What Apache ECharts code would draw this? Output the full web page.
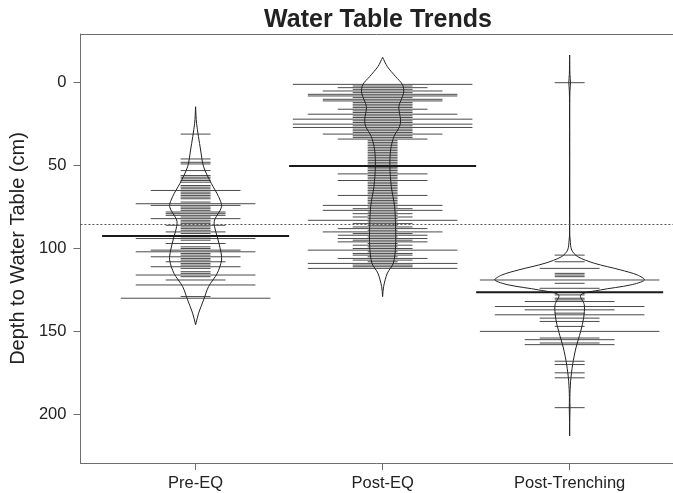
<!DOCTYPE html>
<html><head><meta charset="utf-8">
<script src="https://cdn.jsdelivr.net/npm/echarts@6/dist/echarts.min.js"></script>
<style>html,body{margin:0;padding:0;background:#fff}#c{width:673px;height:493px}</style>
</head><body><div id="c"></div>
<script>
// ---- data ----
const categories = ['Pre-EQ', 'Post-EQ', 'Post-Trenching'];
const yTickValues = [0, 50, 100, 150, 200];

// observed depths (cm) and the number of observations at each depth
const preDepth = [31,46,48,49,53,56,57,58,59,60,62,63,64,65,66,67,68,69,70,72,73,74,75,76,77,78,79,80,81,82,83,84,85,86,87,88,89,90,91,93,94,95,97,99,100,101,102,103,104,105,106,107,108,109,110,111,112,114,115,116,117,119,122,129,130];
const preCount = [1,1,1,1,1,1,1,1,1,1,1,1,1,3,1,1,1,1,1,1,4,3,1,1,1,2,2,2,1,3,1,1,1,2,1,1,1,2,1,1,4,1,2,1,1,3,4,1,1,3,1,1,2,1,1,3,1,1,1,4,1,2,4,1,5];

const postDepth = [1,2,3,4,5,6,7,8,9,10,11,12,13,14,15,16,17,18,19,20,21,22,23,24,25,26,27,28,29,30,31,32,33,34,35,36,37,38,39,40,41,42,43,44,45,46,47,48,49,50,51,52,53,54,55,56,57,58,59,60,61,62,63,64,65,66,67,68,69,70,71,72,73,74,75,76,77,78,79,80,81,82,83,84,85,86,87,88,89,90,91,92,93,94,95,96,97,98,99,100,101,102,103,104,105,106,107,108,109,110,111,112];
const postCount = [6,2,3,2,4,2,5,5,2,4,4,2,2,2,2,3,2,2,5,2,2,6,2,2,6,2,6,2,2,2,4,2,2,3,1,1,1,1,1,1,1,1,1,1,1,1,1,1,1,1,1,1,1,1,3,1,1,1,3,1,1,1,1,1,1,1,1,3,1,1,1,1,1,4,1,2,4,1,2,1,2,1,5,1,2,1,2,3,1,4,2,3,1,3,2,3,1,2,1,2,5,1,2,2,1,3,2,1,5,2,2,5];

const trenchDepth = [0,104,108,112,115,116,117,119,121,124,128,130,131,132,135,137,139,140,142,144,147,150,154,155,157,158,168,170,175,178,196];
const trenchCount = [1,1,1,2,1,1,1,6,1,2,1,1,1,3,5,3,1,5,2,2,1,6,2,3,2,3,1,1,1,1,1];

// bean averages and overall average (cm)
const beanMeans = [92.5, 50.2, 126.4];
const overallMean = 85.6;

// density outlines: depth (cm) and relative density (1 = widest)
const preDensDepth = [14.5,24.5,40.6,50.7,60.7,68.7,74.8,82.8,86.8,92.9,100.9,106.9,115,123,131,139,146];
const preDens = [0,0.013,0.067,0.107,0.209,0.307,0.347,0.253,0.253,0.289,0.333,0.347,0.289,0.173,0.107,0.04,0];
const postDensDepth = [-15.3,-9.7,-3.7,1.3,6.3,14.4,22.4,26.4,32.5,40.5,50.6,62.6,74.7,86.7,98.8,108.9,114.9,123,129];
const postDens = [0,0.063,0.173,0.267,0.28,0.217,0.24,0.227,0.151,0.107,0.097,0.116,0.16,0.173,0.173,0.143,0.063,0.013,0];
const trenchDensDepth = [-16.7,-5,0,5,20,90,94.9,100.9,104.9,108.9,112.9,116,119,122,125,128,134,142,150,160,170,180,190,196,205,213];
const trenchDens = [0,0.004,0.011,0.004,0,0,0.007,0.027,0.107,0.329,0.68,0.907,1,0.813,0.413,0.147,0.196,0.187,0.147,0.084,0.04,0.013,0.003,0.005,0.001,0];

// ---- build ----
const LINE_PER_OBS = 0.08;   // half length of a bean line per observation (x units)
const MAX_HALF = 0.4;        // half width of widest bean (x units)
const MEAN_HALF = 0.5;

const beans = [
  {depth: preDepth, count: preCount, dd: preDensDepth, dv: preDens},
  {depth: postDepth, count: postCount, dd: postDensDepth, dv: postDens},
  {depth: trenchDepth, count: trenchCount, dd: trenchDensDepth, dv: trenchDens}
];

const lineData = [];
beans.forEach((b, gi) => b.depth.forEach((d, i) => lineData.push([gi + 1, d, b.count[i]])));

const FONT = 'Liberation Sans, Arial, sans-serif';
const chart = echarts.init(document.getElementById('c'), null, {renderer: 'canvas'});
const xMin = 0.3842, xMax = 3.5526;
const AXIS_COLOR = '#6e6e6e';

chart.setOption({
  animation: false,
  title: {
    text: 'Water Table Trends', left: 378, top: 8, padding: 0, textAlign: 'center',
    textStyle: {fontFamily: FONT, fontWeight: 'bold', fontSize: 25, color: '#222'}
  },
  grid: {left: 71, right: 0, top: 34, bottom: 30, containLabel: false},
  xAxis: [{
    type: 'value', position: 'bottom', min: xMin, max: xMax,
    axisLine: {show: true, onZero: false, lineStyle: {color: AXIS_COLOR, width: 1}},
    axisTick: {show: true, length: 7, inside: false, customValues: [1, 2, 3], lineStyle: {color: AXIS_COLOR}},
    axisLabel: {customValues: [1, 2, 3], formatter: v => categories[Math.round(v) - 1], color: '#222', fontSize: 16.5, fontFamily: FONT, margin: 12},
    splitLine: {show: false}
  }, {
    type: 'value', position: 'top', min: xMin, max: xMax,
    axisLine: {show: true, onZero: false, lineStyle: {color: AXIS_COLOR, width: 1}},
    axisTick: {show: false}, axisLabel: {show: false}, splitLine: {show: false}
  }],
  yAxis: {
    type: 'value', inverse: true, min: -29.37, max: 229.38,
    name: 'Depth to Water Table (cm)', nameLocation: 'middle', nameGap: 42, nameRotate: 90,
    nameTextStyle: {fontFamily: FONT, fontSize: 20, color: '#222'},
    axisLine: {show: true, onZero: false, lineStyle: {color: AXIS_COLOR, width: 1}},
    axisTick: {show: true, length: 7, inside: false, customValues: yTickValues, lineStyle: {color: AXIS_COLOR}},
    axisLabel: {customValues: yTickValues, color: '#222', fontSize: 16.5, fontFamily: FONT, margin: 14},
    splitLine: {show: false}
  },
  series: [{
    type: 'custom', name: 'observations', data: lineData, encode: {x: 0, y: 1},
    renderItem: (params, api) => {
      const x = api.value(0), y = api.value(1), c = api.value(2);
      const p1 = api.coord([x - LINE_PER_OBS * c, y]);
      const p2 = api.coord([x + LINE_PER_OBS * c, y]);
      return {type: 'line', shape: {x1: p1[0], y1: p1[1], x2: p2[0], y2: p2[1]}, style: {stroke: '#4a4a4a', lineWidth: 1}};
    }
  }, {
    type: 'custom', name: 'density', data: [[1, 0], [2, 0], [3, 0]], encode: {x: 0, y: 1},
    renderItem: (params, api) => {
      const b = beans[params.dataIndex];
      const cx = params.dataIndex + 1;
      const left = b.dd.map((d, i) => api.coord([cx - MAX_HALF * b.dv[i], d]));
      const right = b.dd.map((d, i) => api.coord([cx + MAX_HALF * b.dv[i], d])).reverse();
      return {type: 'polygon', shape: {points: left.concat(right), smooth: 0.3}, style: {fill: 'none', stroke: '#222', lineWidth: 1}};
    }
  }, {
    type: 'custom', name: 'means', data: beanMeans.map((m, i) => [i + 1, m]), encode: {x: 0, y: 1},
    renderItem: (params, api) => {
      const x = api.value(0), y = api.value(1);
      const p1 = api.coord([x - MEAN_HALF, y]);
      const p2 = api.coord([x + MEAN_HALF, y]);
      return {type: 'line', shape: {x1: p1[0], y1: p1[1], x2: p2[0], y2: p2[1]}, style: {stroke: '#1a1a1a', lineWidth: 2}};
    },
    markLine: {
      silent: true, symbol: 'none', label: {show: false},
      lineStyle: {color: '#555', type: [2, 2], width: 1},
      data: [{yAxis: overallMean}]
    }
  }]
});
</script></body></html>
